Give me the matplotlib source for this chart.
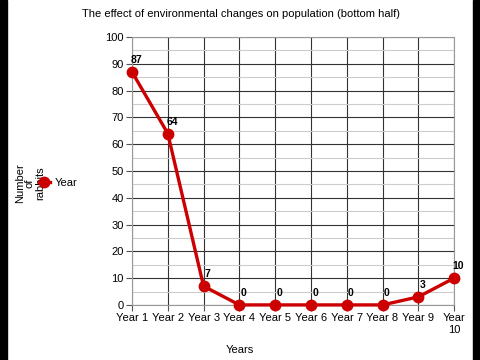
import matplotlib.pyplot as plt
from matplotlib.patches import Rectangle
from matplotlib.lines import Line2D

plt.rcParams['font.family'] = ['Liberation Sans', 'DejaVu Sans']

years = ['Year 1', 'Year 2', 'Year 3', 'Year 4', 'Year 5', 'Year 6',
         'Year 7', 'Year 8', 'Year 9', 'Year\n10']
rabbits = [87, 64, 7, 0, 0, 0, 0, 0, 3, 10]
red = '#cc0000'

fig = plt.figure(figsize=(4.8, 3.6), dpi=100)
ax = fig.add_axes([0.275, 0.153, 0.671, 0.744])

x = list(range(len(years)))
ax.plot(x, rabbits, color=red, lw=2.4, marker='o', ms=7.5, zorder=3, clip_on=False)
for xi, v in zip(x, rabbits):
    ax.annotate(str(v), (xi, v), xytext=(3, 5), textcoords='offset points',
                ha='center', va='bottom', fontsize=7.5, fontweight='bold')

ax.set_xlim(0, 9)
ax.set_ylim(0, 100)
ax.set_xticks(x)
ax.set_xticklabels(years, fontsize=8)
ax.set_yticks(range(0, 101, 10))
ax.set_yticks(range(5, 100, 10), minor=True)
ax.tick_params(axis='y', labelsize=8, length=4, color='#555555', pad=2)
ax.tick_params(axis='y', which='minor', length=0)
ax.tick_params(axis='x', length=4, color='#555555', pad=2)
ax.grid(which='major', color='#333333', lw=0.8)
ax.grid(which='minor', axis='y', color='#cccccc', lw=0.8)
ax.set_axisbelow(True)
for s in ax.spines.values():
    s.set_color('#999999')
    s.set_linewidth(0.8)

fig.text(0.5, 0.028, 'Years', ha='center', va='center', fontsize=8)
fig.text(0.502, 0.962, 'The effect of environmental changes on population (bottom half)',
         ha='center', va='center', fontsize=8)
fig.text(0.062, 0.49, 'Number\nof\nrabbits', rotation=90, ha='center', va='center',
         fontsize=8, linespacing=1.0)

handle = Line2D([], [], color=red, marker='o', ms=7.5, lw=2.4)
fig.legend([handle], ['Year'], loc='center left', bbox_to_anchor=(0.06, 0.492),
           frameon=False, fontsize=8, handlelength=1.0, handletextpad=0.4)

fig.patches.append(Rectangle((0, 0), 7 / 480, 1, transform=fig.transFigure,
                             color='black', zorder=10))
fig.patches.append(Rectangle((473 / 480, 0), 7 / 480, 1, transform=fig.transFigure,
                             color='black', zorder=10))

fig.savefig('out.png', dpi=100)
